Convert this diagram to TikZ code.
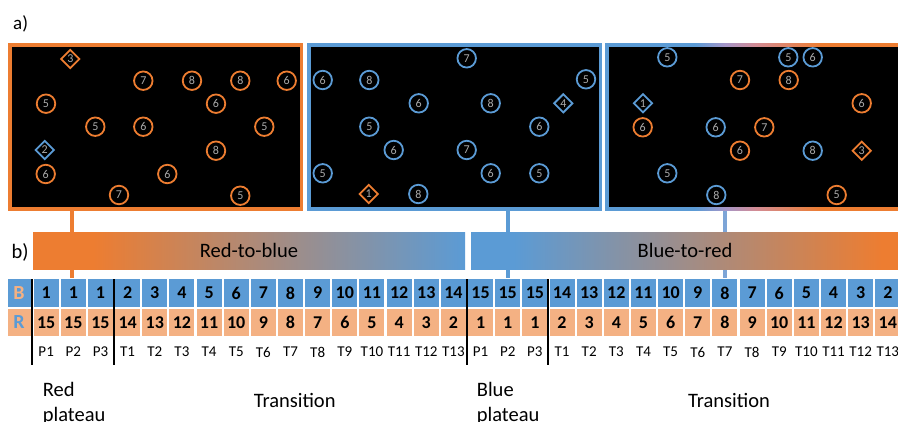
\documentclass[tikz,border=0pt]{standalone}
\usepackage{fontspec}
\setmainfont{Carlito}
\usetikzlibrary{shapes.geometric}
\definecolor{myorange}{RGB}{237,125,49}
\definecolor{myblue}{RGB}{91,155,213}
\definecolor{lorange}{RGB}{244,177,131}
\definecolor{lblue}{RGB}{125,165,215}
\definecolor{mylav}{RGB}{165,150,200}
\definecolor{mypink}{RGB}{210,140,150}
\definecolor{dgray}{RGB}{170,170,170}
\pgfdeclarehorizontalshading{rtb}{100bp}{color(0bp)=(myorange); color(32bp)=(myorange); color(75bp)=(myblue); color(100bp)=(myblue)}
\pgfdeclarehorizontalshading{btr}{100bp}{color(0bp)=(myblue); color(30bp)=(myblue); color(73bp)=(myorange); color(100bp)=(myorange)}
\pgfdeclarehorizontalshading{pbr}{100bp}{color(0bp)=(myblue); color(40bp)=(myblue); color(45bp)=(mylav); color(50bp)=(mypink); color(61bp)=(myorange); color(100bp)=(myorange)}
\tikzset{
  oc/.style={circle, draw=myorange, line width=1.8pt, minimum size=18.5pt, inner sep=0pt, text=dgray, font=\fontsize{12}{12}\selectfont},
  bc/.style={oc, draw=myblue},
  od/.style={diamond, draw=myorange, line width=1.8pt, minimum size=19pt, inner sep=0pt, text=dgray, font=\fontsize{12}{12}\selectfont},
  bd/.style={od, draw=myblue},
  panel/.style={rectangle, fill=black, line width=3.5pt, inner sep=0pt, outer sep=0pt, minimum width=291.5pt, minimum height=164pt},
  gbar/.style={rectangle, inner sep=0pt, outer sep=0pt, minimum height=37pt, font=\fontsize{20.5}{20.5}\selectfont},
  bcell/.style={rectangle, fill=myblue, inner sep=0pt, minimum width=25pt, minimum height=27.4pt, font=\bfseries\fontsize{18}{18}\selectfont},
  rcell/.style={bcell, fill=lorange, minimum height=27pt},
  toplab/.style={inner sep=0pt, font=\fontsize{15}{15}\selectfont},
  conn/.style={line width=3.5pt},
  sep/.style={line width=2pt, black},
  big/.style={inner sep=0pt, font=\fontsize{20.5}{25}\selectfont}
}
\begin{document}
\begin{tikzpicture}[x=1pt,y=-1pt]
\useasboundingbox (0,0) rectangle (898,421);
\clip (0,0) rectangle (898,421);
% labels a) b)
\node[big, anchor=base west, font=\fontsize{19}{19}\selectfont] (la) at (13,29.5) {a)};
\node[big, anchor=base west] (lb) at (11.5,258.3) {b)};
% connectors from panels to table
\coordinate (s1) at (72,209); \coordinate (e1) at (72,278);
\coordinate (s2) at (508,209); \coordinate (e2) at (508,278);
\coordinate (s3) at (725,209); \coordinate (e3) at (725,278);
\draw[conn, myorange] (s1) -- (e1);
\draw[conn, myblue] (s2) -- (e2);
\draw[conn, lblue] (s3) -- (e3);
% panels
\node[panel, draw=myorange] (pan1) at (155.5,126.75) {};
\node[panel, draw=myblue] (pan2) at (454.5,126.75) {};
\node[rectangle, inner sep=0pt, outer sep=0pt, shading=pbr, minimum width=300pt, minimum height=167.5pt] (pan3) at (755,126.75) {};
\fill[black] (608.5,46.5) rectangle (905,207);
% panel 1 items
\node[od] (a0) at (70.3,59) {3};
\node[oc] (a1) at (143.3,80.7) {7};
\node[oc] (a2) at (192,80.7) {8};
\node[oc] (a3) at (240.3,80.7) {8};
\node[oc] (a4) at (286.7,80.7) {6};
\node[oc] (a5) at (46,103.7) {5};
\node[oc] (a6) at (216,103.7) {6};
\node[oc] (a7) at (95.3,126.7) {5};
\node[oc] (a8) at (143.3,126.7) {6};
\node[oc] (a9) at (264.3,126.7) {5};
\node[bd] (a10) at (44.7,150) {2};
\node[oc] (a11) at (216,150.7) {8};
\node[oc] (a12) at (45.7,174) {6};
\node[oc] (a13) at (167.3,174) {6};
\node[oc] (a14) at (119,195) {7};
\node[oc] (a15) at (240.3,195.7) {5};
% panel 2 items
\node[bc] (c1) at (466.7,58.3) {7};
\node[bc] (c2) at (322.7,80) {6};
\node[bc] (c3) at (369.3,80) {8};
\node[bc] (c4) at (586,79.3) {5};
\node[bc] (c5) at (418.7,103.3) {6};
\node[bc] (c6) at (490.7,103.3) {8};
\node[bd] (c7) at (563.3,103.3) {4};
\node[bc] (c8) at (369.3,126.7) {5};
\node[bc] (c9) at (539.3,126.7) {6};
\node[bc] (c10) at (393.7,150) {6};
\node[bc] (c11) at (466.7,150) {7};
\node[bc] (c12) at (322.7,173.3) {5};
\node[bc] (c13) at (490.7,173.3) {6};
\node[bc] (c14) at (539.3,173.3) {5};
\node[od] (c15) at (368.7,194) {1};
\node[bc] (c16) at (418.3,194) {8};
% panel 3 items
\node[bc] (d1) at (667.3,57.3) {5};
\node[bc] (d2) at (788.3,57.3) {5};
\node[bc] (d3) at (812.7,57.3) {6};
\node[oc] (d4) at (740,80) {7};
\node[oc] (d5) at (788.7,80) {8};
\node[bd] (d6) at (643,103.3) {1};
\node[oc] (d7) at (861.7,103.3) {6};
\node[oc] (d8) at (642.7,127.3) {6};
\node[bc] (d9) at (715.7,127.3) {6};
\node[oc] (d10) at (764.3,127.3) {7};
\node[oc] (d11) at (740,150.7) {6};
\node[bc] (d12) at (812.7,150.7) {8};
\node[od] (d13) at (861.7,150.7) {3};
\node[bc] (d14) at (667.3,173.3) {5};
\node[bc] (d15) at (716.3,195) {8};
\node[oc] (d16) at (836.7,195) {5};
% gradient bars
\node[gbar, shading=rtb, minimum width=432pt] (rtbbar) at (249,250.5) {Red-to-blue};
\node[gbar, shading=btr, minimum width=428pt] (btrbar) at (685,250.5) {Blue-to-red};
% table header
\node[bcell, minimum width=23pt, text=lorange, font=\bfseries\fontsize{20}{20}\selectfont] (hb) at (19,293) {B};
\node[rcell, minimum width=23pt, text=myblue, font=\bfseries\fontsize{20}{20}\selectfont] (hr) at (19,322.5) {R};
\foreach \k in {1,...,32}{
  \pgfmathtruncatemacro{\jj}{\k>16 ? \k-16 : \k}
  \pgfmathtruncatemacro{\mm}{max(1,\jj-2)}
  \pgfmathtruncatemacro{\bv}{\k>16 ? 16-\mm : \mm}
  \pgfmathtruncatemacro{\rv}{16-\bv}
  \pgfmathsetmacro{\cx}{32.6+(\k-0.5)*27.15}
  \pgfmathtruncatemacro{\tn}{\jj-3}
  \ifnum\jj<4 \xdef\mylab{P\jj}\else\xdef\mylab{T\tn}\fi
  \node[bcell] (b\k) at (\cx,293) {\bv};
  \node[rcell] (r\k) at (\cx,322.5) {\rv};
  \node[toplab] (l\k) at (\cx,352) {\mylab};
}
% black separators
\foreach \i/\xx in {1/32,2/113.8,3/466.7,4/548}{
  \coordinate (vt\i) at (\xx,279);
  \coordinate (vb\i) at (\xx,365);
  \draw[sep] (vt\i) -- (vb\i);
}
% bottom texts
\node[big, anchor=north west, align=left] (rp) at (42.7,382) {Red\\plateau};
\node[big, anchor=base] (tr1) at (294.7,407.7) {Transition};
\node[big, anchor=north west, align=left] (bp) at (476.7,382) {Blue\\plateau};
\node[big, anchor=base] (tr2) at (729,407.7) {Transition};
\end{tikzpicture}
\end{document}
